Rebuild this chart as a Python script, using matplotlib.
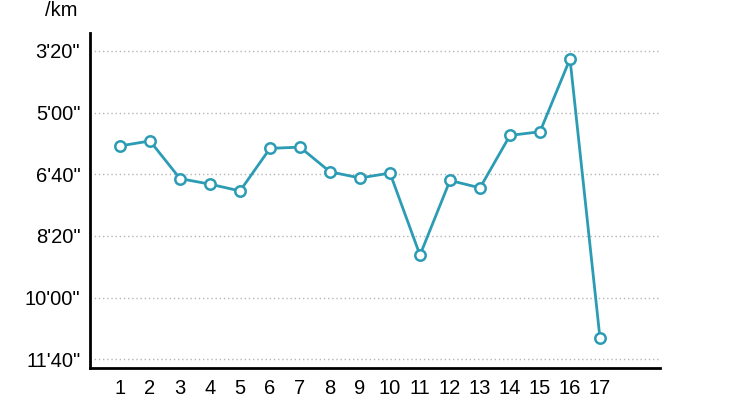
import numpy as np
import matplotlib
matplotlib.use("Agg")
import matplotlib.pyplot as plt

# split number and pace (seconds per km)
splits = list(range(1, 18))
pace_sec = [354, 346, 407, 416, 427, 358, 356, 396, 406, 398,
            531, 410, 422, 337, 331, 213, 666]
ytick_sec = [200, 300, 400, 500, 600, 700]


def fmt_pace(s):
    return f"{int(s) // 60}'{int(s) % 60:02d}\""


plt.rcParams["font.family"] = ["Liberation Sans", "DejaVu Sans"]
fig = plt.figure(figsize=(7.5, 4.11), dpi=100)
ax = fig.add_axes([0.12, 0.1046, 0.76, 0.8151])

line_color = "#2b9cb4"
ax.plot(splits, pace_sec, color=line_color, linewidth=2, marker="o",
        markersize=7.5, markerfacecolor="white", markeredgecolor=line_color,
        markeredgewidth=1.8, zorder=3)

ax.set_xlim(0, 19)
ax.set_ylim(714, 171)
ax.set_xticks(splits)
ax.set_xticklabels([str(s) for s in splits])
ax.set_yticks(ytick_sec)
ax.set_yticklabels([fmt_pace(s) for s in ytick_sec])
ax.tick_params(axis="both", length=0, labelsize=14.5, colors="black")
ax.tick_params(axis="y", pad=7)
ax.tick_params(axis="x", pad=8)

# dotted horizontal grid
ax.yaxis.grid(True, linestyle=(0, (1, 2)), color="#b5b5b5", linewidth=1)
ax.xaxis.grid(False)
ax.set_axisbelow(True)

for side in ["top", "right"]:
    ax.spines[side].set_visible(False)
for side in ["left", "bottom"]:
    ax.spines[side].set_linewidth(2)
    ax.spines[side].set_color("black")

fig.text(61 / 750, 1 - 10 / 411, "/km", fontsize=14.5, ha="center", va="center")

fig.savefig("out.png", dpi=100)
